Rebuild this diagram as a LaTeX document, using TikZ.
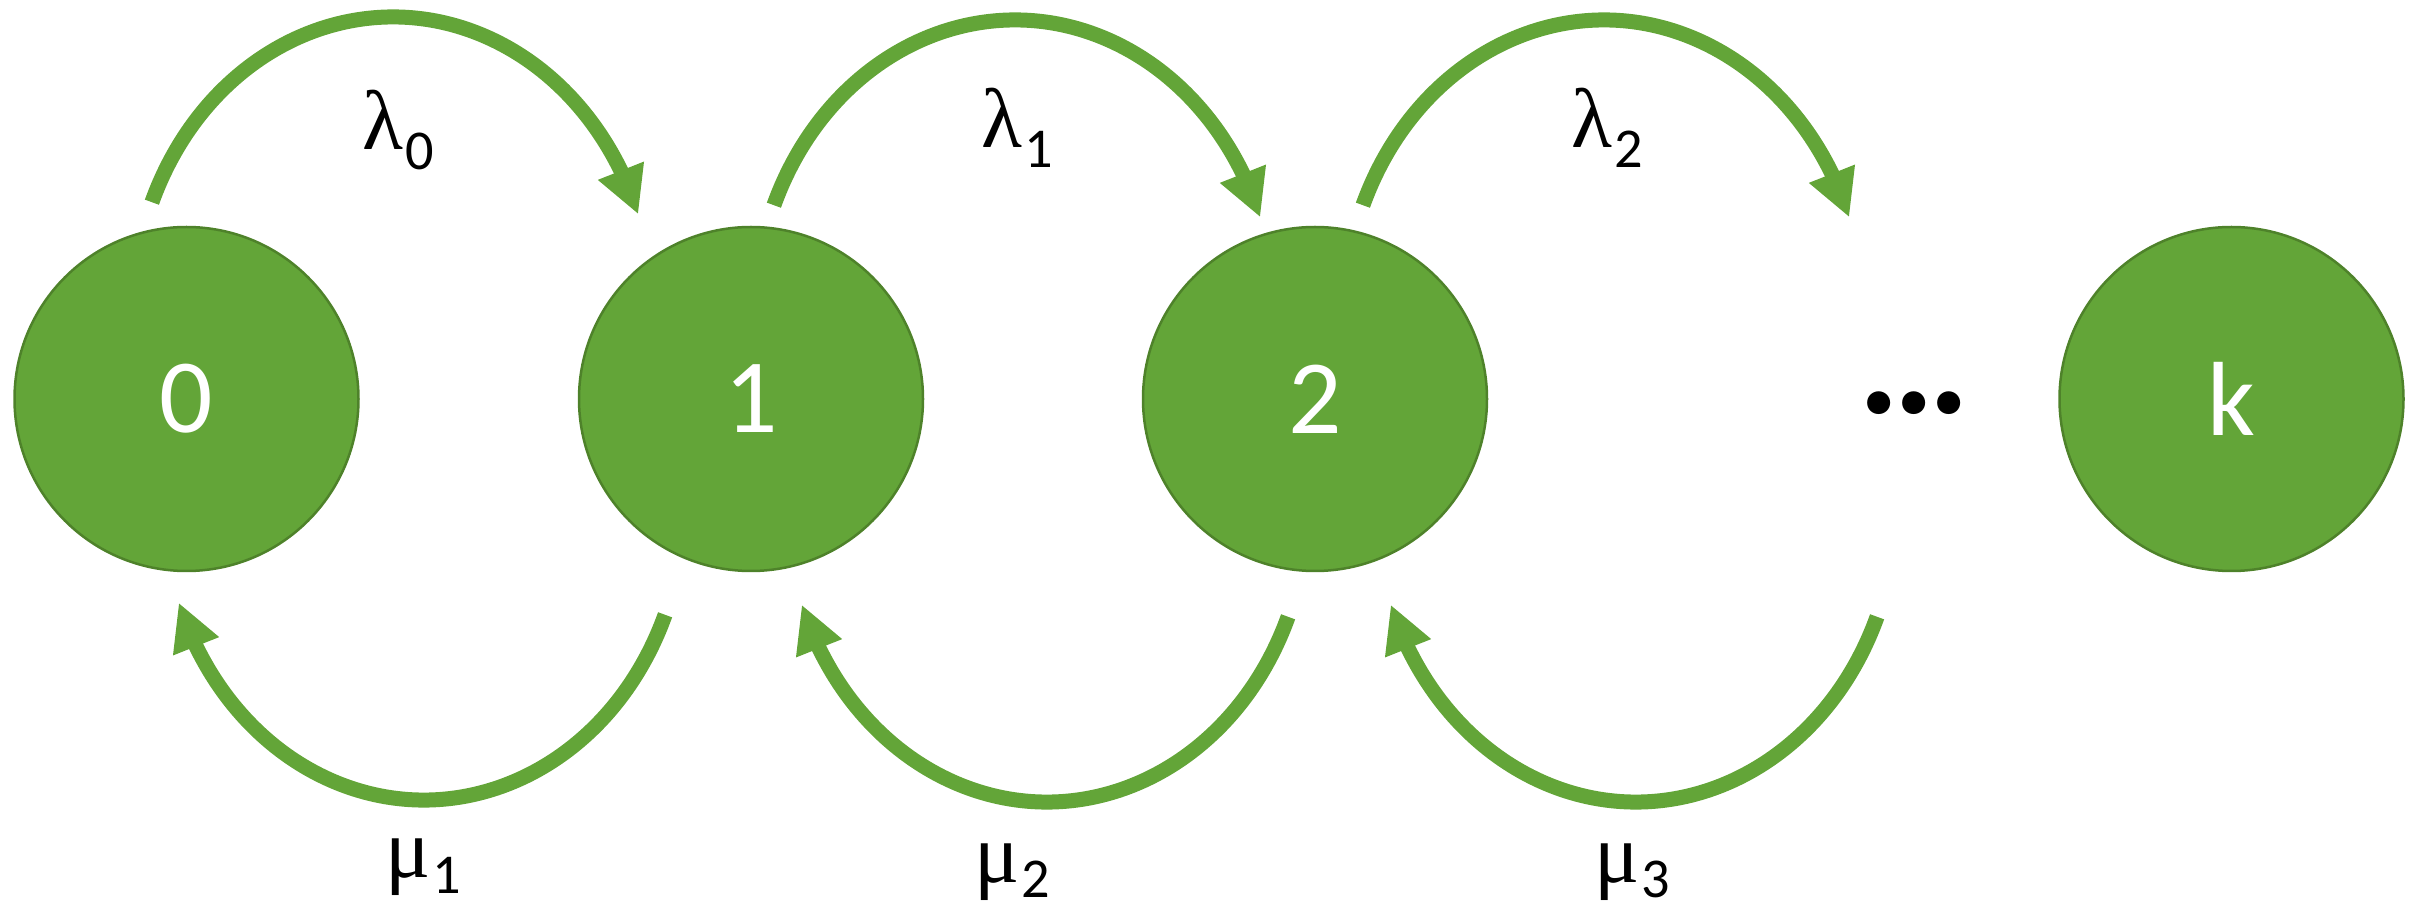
\documentclass[tikz,border=0pt]{standalone}
\usepackage{fontspec}
\setmainfont{Carlito}
\newfontfamily\greekfont{Liberation Serif}
\usetikzlibrary{arrows.meta,bending}
\definecolor{stategreen}{RGB}{99,165,56}
\definecolor{edgegreen}{RGB}{78,130,42}
\newcommand{\rate}[3]{{\greekfont #1}\kern0.02em\raisebox{-#3}{\fontsize{16}{16}\selectfont #2}}

\begin{document}
\begin{tikzpicture}[
    state/.style={circle, draw=edgegreen, line width=0.25mm, fill=stategreen, minimum size=3.44cm, inner sep=0pt, text=white, font=\fontsize{30}{36}\selectfont},
    flow/.style={draw=stategreen, line width=1.5mm, -{Triangle[length=4.7mm,width=4.6mm,flex]}},
    rate/.style={font=\fontsize{24}{28}\selectfont, inner sep=0pt, anchor=base west}
  ]
  \useasboundingbox (0,0) rectangle (24.15,-9.07);
  \node[state] (n0) at (1.865,-3.99) {0};
  \node[state] (n1) at (7.51,-3.99) {1};
  \node[state] (n2) at (13.15,-3.99) {2};
  \node[font=\fontsize{44}{48}\selectfont\bfseries, inner sep=0pt] (nd) at (19.14,-4.03) {.\kern-0.04em.\kern-0.04em.};
  \node[state] (nk) at (22.315,-3.99) {k};

  \coordinate (up0) at (1.519,-2.022);
  \coordinate (up1) at (7.739,-2.052);
  \coordinate (up2) at (13.629,-2.052);
  \draw[flow] (up0) arc[start angle=157.5, end angle=20, x radius=2.61, y radius=3];
  \draw[flow] (up1) arc[start angle=157.5, end angle=20, x radius=2.61, y radius=3];
  \draw[flow] (up2) arc[start angle=157.5, end angle=20, x radius=2.61, y radius=3];
  \node[rate] (lam0) at (3.62,-1.50) {\rate{λ}{0}{0.2cm}};
  \node[rate] (lam1) at (9.81,-1.48) {\rate{λ}{1}{0.2cm}};
  \node[rate] (lam2) at (15.71,-1.48) {\rate{λ}{2}{0.2cm}};

  \coordinate (dn1) at (6.651,-6.148);
  \coordinate (dn2) at (12.881,-6.168);
  \coordinate (dn3) at (18.771,-6.168);
  \draw[flow] (dn1) arc[start angle=-22.5, end angle=-160, x radius=2.61, y radius=3];
  \draw[flow] (dn2) arc[start angle=-22.5, end angle=-160, x radius=2.61, y radius=3];
  \draw[flow] (dn3) arc[start angle=-22.5, end angle=-160, x radius=2.61, y radius=3];
  \node[rate] (mu1) at (3.85,-8.77) {\rate{μ}{1}{0.16cm}};
  \node[rate] (mu2) at (9.74,-8.83) {\rate{μ}{2}{0.15cm}};
  \node[rate] (mu3) at (15.94,-8.83) {\rate{μ}{3}{0.15cm}};
\end{tikzpicture}
\end{document}
